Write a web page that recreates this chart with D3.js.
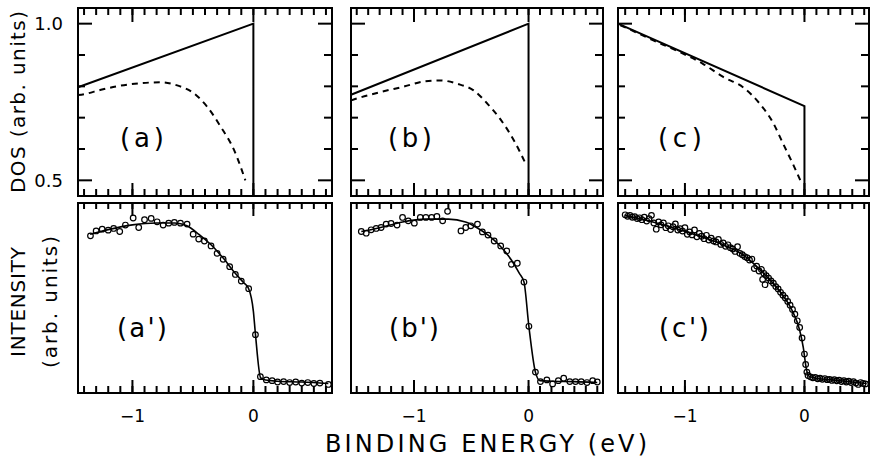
<!DOCTYPE html>
<html>
<head>
<meta charset="utf-8">
<script src="https://cdn.jsdelivr.net/npm/d3@7"></script>
<style>
  body { margin: 0; background: #fff; }
  #wrap { position: relative; width: 876px; height: 460px; }
  #wrap svg { position: absolute; left: 0; top: 0; }
  text { font-family: "DejaVu Sans", sans-serif; fill: #000; }
</style>
</head>
<body>
<div id="wrap">
<svg id="chart" width="876" height="460"></svg>
<svg id="ticks" width="876" height="460"></svg>
</div>
<script>

/* DATA (binding energy in eV, DOS / intensity in arb. units) */

// Model DOS, solid = step edge, dashed = broadened
const dosSolidA = [[-1.45, 0.797], [0, 1.0], [0, 0.45]];
const dosSolidB = [[-1.55, 0.773], [0, 1.0], [0, 0.45]];
const dosSolidC = [[-1.56, 1.0], [0, 0.737], [0, 0.45]];

const dosDashA = [[-1.45, 0.772], [-1.40, 0.775], [-1.26, 0.789], [-1.13, 0.800], [-0.93, 0.810], [-0.77, 0.813],
  [-0.63, 0.803], [-0.49, 0.777], [-0.38, 0.734], [-0.27, 0.671], [-0.16, 0.597], [-0.066, 0.500]];
const dosDashB = [[-1.55, 0.755], [-1.50, 0.761], [-1.29, 0.782], [-1.08, 0.800], [-0.91, 0.816], [-0.77, 0.819],
  [-0.62, 0.808], [-0.48, 0.787], [-0.36, 0.745], [-0.24, 0.692], [-0.13, 0.629], [-0.02, 0.549]];
const dosDashC = [[-1.54, 0.995], [-1.51, 0.990], [-1.26, 0.946], [-1.07, 0.914], [-0.85, 0.872], [-0.68, 0.830],
  [-0.51, 0.796], [-0.375, 0.745], [-0.26, 0.682], [-0.18, 0.618], [-0.10, 0.555], [-0.03, 0.496]];

// Measured photoemission spectra (circles)
const specA = [[-1.347, 0.827], [-1.30, 0.853], [-1.25, 0.862], [-1.20, 0.857], [-1.155, 0.866], [-1.105, 0.850],
  [-1.058, 0.884], [-0.994, 0.921], [-0.948, 0.871], [-0.90, 0.912], [-0.845, 0.919], [-0.796, 0.901],
  [-0.746, 0.884], [-0.70, 0.894], [-0.653, 0.898], [-0.603, 0.894], [-0.548, 0.889], [-0.498, 0.836],
  [-0.452, 0.810], [-0.405, 0.800], [-0.35, 0.774], [-0.30, 0.735], [-0.25, 0.704], [-0.196, 0.665],
  [-0.149, 0.624], [-0.10, 0.589], [-0.039, 0.549], [0.017, 0.307], [0.058, 0.086], [0.107, 0.069],
  [0.155, 0.065], [0.20, 0.058], [0.25, 0.060], [0.30, 0.055], [0.35, 0.058], [0.40, 0.052],
  [0.45, 0.055], [0.50, 0.050], [0.55, 0.052], [0.62, 0.045]];
const specB = [[-1.46, 0.850], [-1.417, 0.841], [-1.374, 0.859], [-1.33, 0.866], [-1.287, 0.871], [-1.243, 0.889],
  [-1.20, 0.892], [-1.148, 0.884], [-1.10, 0.924], [-1.05, 0.906], [-0.997, 0.894], [-0.945, 0.924],
  [-0.896, 0.924], [-0.846, 0.924], [-0.80, 0.929], [-0.75, 0.906], [-0.707, 0.956], [-0.59, 0.853],
  [-0.548, 0.871], [-0.504, 0.880], [-0.446, 0.889], [-0.403, 0.848], [-0.354, 0.831], [-0.30, 0.800],
  [-0.243, 0.774], [-0.19, 0.748], [-0.15, 0.677], [-0.098, 0.683], [-0.04, 0.584], [0.003, 0.351],
  [0.06, 0.110], [0.104, 0.060], [0.16, 0.069], [0.21, 0.048], [0.26, 0.065], [0.307, 0.078],
  [0.36, 0.060], [0.41, 0.060], [0.46, 0.060], [0.51, 0.055], [0.56, 0.065], [0.60, 0.058]];
const specC = [[-1.50, 0.938], [-1.48, 0.930], [-1.46, 0.935], [-1.44, 0.925], [-1.42, 0.928], [-1.40, 0.918],
  [-1.38, 0.922], [-1.36, 0.912], [-1.34, 0.925], [-1.32, 0.905], [-1.30, 0.918], [-1.28, 0.935],
  [-1.26, 0.895], [-1.24, 0.862], [-1.22, 0.900], [-1.20, 0.885], [-1.18, 0.895], [-1.16, 0.870],
  [-1.14, 0.880], [-1.12, 0.860], [-1.10, 0.875], [-1.08, 0.890], [-1.06, 0.858], [-1.04, 0.865],
  [-1.02, 0.852], [-1.00, 0.870], [-0.98, 0.835], [-0.96, 0.848], [-0.94, 0.832], [-0.92, 0.858],
  [-0.90, 0.822], [-0.88, 0.840], [-0.86, 0.825], [-0.84, 0.812], [-0.82, 0.830], [-0.80, 0.805],
  [-0.78, 0.815], [-0.76, 0.800], [-0.74, 0.795], [-0.72, 0.808], [-0.70, 0.782], [-0.68, 0.790],
  [-0.66, 0.772], [-0.64, 0.780], [-0.62, 0.765], [-0.60, 0.758], [-0.58, 0.745], [-0.56, 0.770],
  [-0.54, 0.735], [-0.52, 0.728], [-0.50, 0.718], [-0.48, 0.712], [-0.46, 0.700], [-0.44, 0.705],
  [-0.42, 0.655], [-0.40, 0.668], [-0.38, 0.642], [-0.36, 0.650], [-0.35, 0.598], [-0.34, 0.630],
  [-0.33, 0.570], [-0.32, 0.618], [-0.30, 0.605], [-0.28, 0.590], [-0.26, 0.578], [-0.24, 0.560],
  [-0.22, 0.548], [-0.20, 0.530], [-0.18, 0.515], [-0.16, 0.500], [-0.14, 0.482], [-0.12, 0.462],
  [-0.10, 0.440], [-0.08, 0.415], [-0.06, 0.380], [-0.04, 0.345], [-0.02, 0.290], [0.00, 0.205],
  [0.01, 0.150], [0.02, 0.110], [0.03, 0.092], [0.05, 0.085], [0.07, 0.080], [0.09, 0.082],
  [0.11, 0.075], [0.13, 0.078], [0.15, 0.072], [0.17, 0.076], [0.19, 0.070], [0.21, 0.072],
  [0.23, 0.066], [0.25, 0.070], [0.27, 0.064], [0.29, 0.068], [0.31, 0.060], [0.33, 0.065],
  [0.35, 0.058], [0.37, 0.062], [0.39, 0.055], [0.41, 0.060], [0.43, 0.052], [0.45, 0.045],
  [0.47, 0.055], [0.49, 0.050], [0.51, 0.048]];

// Fitted curves (solid line through the spectra)
const fitA = [[-1.35, 0.835], [-1.2, 0.860], [-1.0, 0.885], [-0.8, 0.895], [-0.65, 0.895], [-0.55, 0.880],
  [-0.45, 0.835], [-0.35, 0.780], [-0.25, 0.710], [-0.15, 0.630], [-0.08, 0.580], [-0.04, 0.550],
  [0.0, 0.430], [0.017, 0.310], [0.06, 0.080], [0.1, 0.068], [0.2, 0.062], [0.4, 0.058], [0.62, 0.050]];
const fitB = [[-1.46, 0.850], [-1.3, 0.870], [-1.1, 0.900], [-0.9, 0.915], [-0.7, 0.915], [-0.55, 0.900],
  [-0.45, 0.870], [-0.35, 0.830], [-0.25, 0.775], [-0.15, 0.700], [-0.08, 0.630], [-0.04, 0.585],
  [0.003, 0.350], [0.06, 0.110], [0.1, 0.065], [0.2, 0.062], [0.4, 0.060], [0.6, 0.055]];
const fitC = [[-1.5, 0.935], [-1.3, 0.905], [-1.1, 0.870], [-0.9, 0.830], [-0.7, 0.785], [-0.5, 0.720],
  [-0.35, 0.635], [-0.2, 0.530], [-0.1, 0.430], [-0.04, 0.330], [-0.01, 0.240], [0.015, 0.130],
  [0.035, 0.090], [0.1, 0.078], [0.25, 0.068], [0.4, 0.058], [0.52, 0.050]];

// Labels and ticks
const panelLabels = ["(a)", "(b)", "(c)"];
const spectrumLabels = ["(a')", "(b')", "(c')"];
const xMajorTicks = [-1, 0];
const xTickLabels = ["\u22121", "0"];
const dosMajorTicks = [0.5, 1.0];
const dosMinorTicks = [0.6, 0.7, 0.8, 0.9];
const dosTickLabels = ["0.5", "1.0"];


/* LAYOUT */

const svg = d3.select("#chart");
const tickSvg = d3.select("#ticks");

const topY0 = 8, topY1 = 196;
const botY0 = 203, botY1 = 393;

const panels = [
  { x0: 78,  x1: 332, domain: [-1.45, 0.65], solid: dosSolidA, dash: dosDashA, spec: specA, fit: fitA, lx: 142, lx2: 142 },
  { x0: 351, x1: 603, domain: [-1.55, 0.65], solid: dosSolidB, dash: dosDashB, spec: specB, fit: fitB, lx: 410, lx2: 414 },
  { x0: 618, x1: 869, domain: [-1.56, 0.54], solid: dosSolidC, dash: dosDashC, spec: specC, fit: fitC, lx: 680, lx2: 684 }
];

const yDos = d3.scaleLinear().domain([0.45, 1.05]).range([topY1, topY0]);
const yInt = d3.scaleLinear().domain([0, 1]).range([botY1, botY0]);

// Vertical tick marks from a horizontal edge, len > 0 points down
function vTicks(x, yEdge, values, len) {
  tickSvg.append("g")
    .selectAll("line")
    .data(values)
    .join("line")
    .attr("x1", d => x(d)).attr("x2", d => x(d))
    .attr("y1", yEdge).attr("y2", yEdge + len)
    .attr("stroke", "black").attr("stroke-width", 2);
}

// Horizontal tick marks from a vertical edge, len > 0 points right
function hTicks(xEdge, values, len) {
  tickSvg.append("g")
    .selectAll("line")
    .data(values)
    .join("line")
    .attr("x1", xEdge).attr("x2", xEdge + len)
    .attr("y1", d => yDos(d)).attr("y2", d => yDos(d))
    .attr("stroke", "black").attr("stroke-width", 2);
}

panels.forEach((p, i) => {
  let x = d3.scaleLinear().domain(p.domain).range([p.x0, p.x1]);
  let minor = d3.range(Math.ceil(p.domain[0] * 10), Math.floor(p.domain[1] * 10) + 1).map(v => v / 10);

  // Frames
  [[topY0, topY1], [botY0, botY1]].forEach(([a, b]) => {
    svg.append("rect")
      .attr("x", p.x0).attr("y", a)
      .attr("width", p.x1 - p.x0).attr("height", b - a)
      .attr("fill", "none").attr("stroke", "#000").attr("stroke-width", 2);
  });

  // DOS curves
  svg.append("path")
    .datum(p.solid)
    .attr("d", d3.line().x(d => x(d[0])).y(d => yDos(d[1])))
    .attr("fill", "none").attr("stroke", "#000").attr("stroke-width", 2);

  svg.append("path")
    .datum(p.dash)
    .attr("d", d3.line().curve(d3.curveMonotoneX).x(d => x(d[0])).y(d => yDos(d[1])))
    .attr("fill", "none").attr("stroke", "#000").attr("stroke-width", 2)
    .attr("stroke-dasharray", "6,5");

  // Spectrum fit + data
  svg.append("path")
    .datum(p.fit)
    .attr("d", d3.line().curve(d3.curveMonotoneX).x(d => x(d[0])).y(d => yInt(d[1])))
    .attr("fill", "none").attr("stroke", "#000").attr("stroke-width", 1.6);

  svg.append("g")
    .selectAll("circle")
    .data(p.spec)
    .join("circle")
    .attr("cx", d => x(d[0]))
    .attr("cy", d => yInt(d[1]))
    .attr("r", 2.8)
    .attr("fill", "none")
    .attr("stroke", "#000")
    .attr("stroke-width", 1.2);

  // Panel labels
  svg.append("text")
    .attr("x", p.lx).attr("y", 147)
    .attr("text-anchor", "middle")
    .attr("font-size", 26)
    .attr("textLength", 44).attr("lengthAdjust", "spacing")
    .text(panelLabels[i]);

  svg.append("text")
    .attr("x", p.lx2).attr("y", 337)
    .attr("text-anchor", "middle")
    .attr("font-size", 26)
    .attr("textLength", 50).attr("lengthAdjust", "spacing")
    .text(spectrumLabels[i]);

  // x tick labels
  svg.append("g")
    .selectAll("text")
    .data(xMajorTicks)
    .join("text")
    .attr("x", d => x(d))
    .attr("y", 422)
    .attr("text-anchor", "middle")
    .attr("font-size", 17)
    .text((d, j) => xTickLabels[j]);

  // Ticks on every edge of both rows (no y ticks on the spectra)
  vTicks(x, topY0, minor, 7);
  vTicks(x, topY0, xMajorTicks, 14);
  vTicks(x, topY1, minor, -7);
  vTicks(x, topY1, xMajorTicks, -13);
  vTicks(x, botY0, minor, 6);
  vTicks(x, botY0, xMajorTicks, 13);
  vTicks(x, botY1, minor, -7);
  vTicks(x, botY1, xMajorTicks, -13);
  hTicks(p.x0, dosMinorTicks, 7);
  hTicks(p.x0, dosMajorTicks, 14);
  hTicks(p.x1, dosMinorTicks, -8);
  hTicks(p.x1, dosMajorTicks, -14);
});

// DOS tick labels (left panel only)
svg.append("g")
  .selectAll("text")
  .data(dosMajorTicks)
  .join("text")
  .attr("x", 63)
  .attr("y", d => yDos(d))
  .attr("dy", "0.36em")
  .attr("text-anchor", "end")
  .attr("font-size", 18)
  .text((d, j) => dosTickLabels[j]);

// Axis titles
function vText(x, y, str, len) {
  svg.append("text")
    .attr("transform", `translate(${x},${y}) rotate(-90)`)
    .attr("text-anchor", "middle")
    .attr("font-size", 20)
    .attr("textLength", len).attr("lengthAdjust", "spacing")
    .text(str);
}
vText(25, 102, "DOS (arb. units)", 182);
vText(25, 302, "INTENSITY", 110);
vText(57, 302, "(arb. units)", 132);

svg.append("text")
  .attr("x", 486).attr("y", 452)
  .attr("text-anchor", "middle")
  .attr("font-size", 24)
  .attr("textLength", 322).attr("lengthAdjust", "spacing")
  .text("BINDING ENERGY (eV)");

</script>
</body>
</html>
